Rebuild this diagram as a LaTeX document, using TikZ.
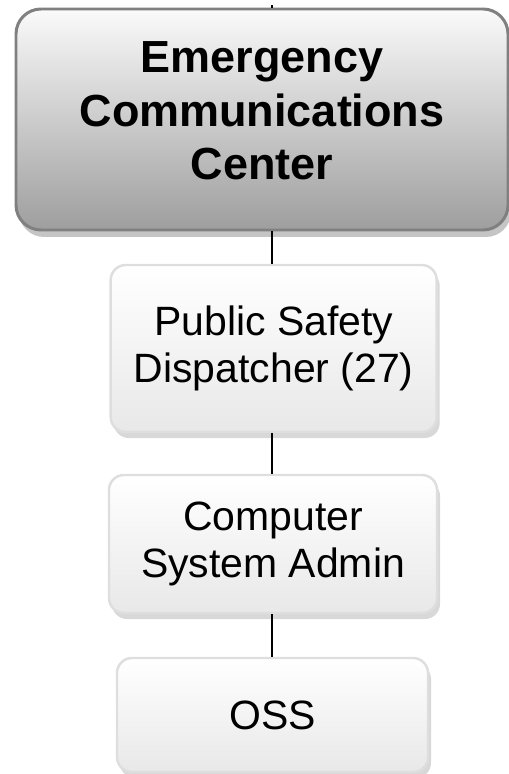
\documentclass[tikz,border=0pt]{standalone}
\usepackage{fontspec}
\setmainfont{Liberation Sans}
\usetikzlibrary{shadows}

\tikzset{
    topbox/.style={rounded corners=0.5cm, draw=black!50, line width=1.7pt,
        top color=black!2, bottom color=black!38,
        minimum width=9.84cm, minimum height=4.42cm, align=center,
        font=\fontsize{25.6}{30.2}\selectfont\bfseries,
        drop shadow={shadow xshift=0.06cm, shadow yshift=-0.14cm, fill=black!45}},
    jobbox/.style={rounded corners=0.3cm, draw=black!13, line width=1.4pt,
        top color=white, bottom color=black!9, align=center,
        font=\fontsize{23.3}{26.7}\selectfont,
        drop shadow={shadow xshift=0.06cm, shadow yshift=-0.12cm, fill=black!30}},
    link/.style={line width=1.5pt, black}
}

\begin{document}
\begin{tikzpicture}
    \useasboundingbox (0,0) rectangle (10.16,-15.48);

    % Caselle dell'organigramma
    \node [topbox, text depth=10.2pt] (ecc) at (5.24,-2.39) {Emergency\\Communications\\Center};
    \node [jobbox, minimum width=6.52cm, minimum height=3.34cm] (psd) at (5.474,-6.97) {Public Safety\\Dispatcher (27)};
    \node [jobbox, minimum width=6.56cm, minimum height=2.76cm] (csa) at (5.46,-10.88) {Computer\\System Admin};
    \node [jobbox, minimum width=6.22cm, minimum height=2.28cm] (oss) at (5.45,-14.3) {OSS};

    % Collegamenti
    \coordinate (up) at (5.44,-0.1);
    \draw [link] (up) -- (ecc.north -| up);
    \draw [link] (ecc.south -| up) -- (psd.north -| up);
    \draw [link] (psd.south -| up) -- (csa.north -| up);
    \draw [link] (csa.south -| up) -- (oss.north -| up);
\end{tikzpicture}
\end{document}
